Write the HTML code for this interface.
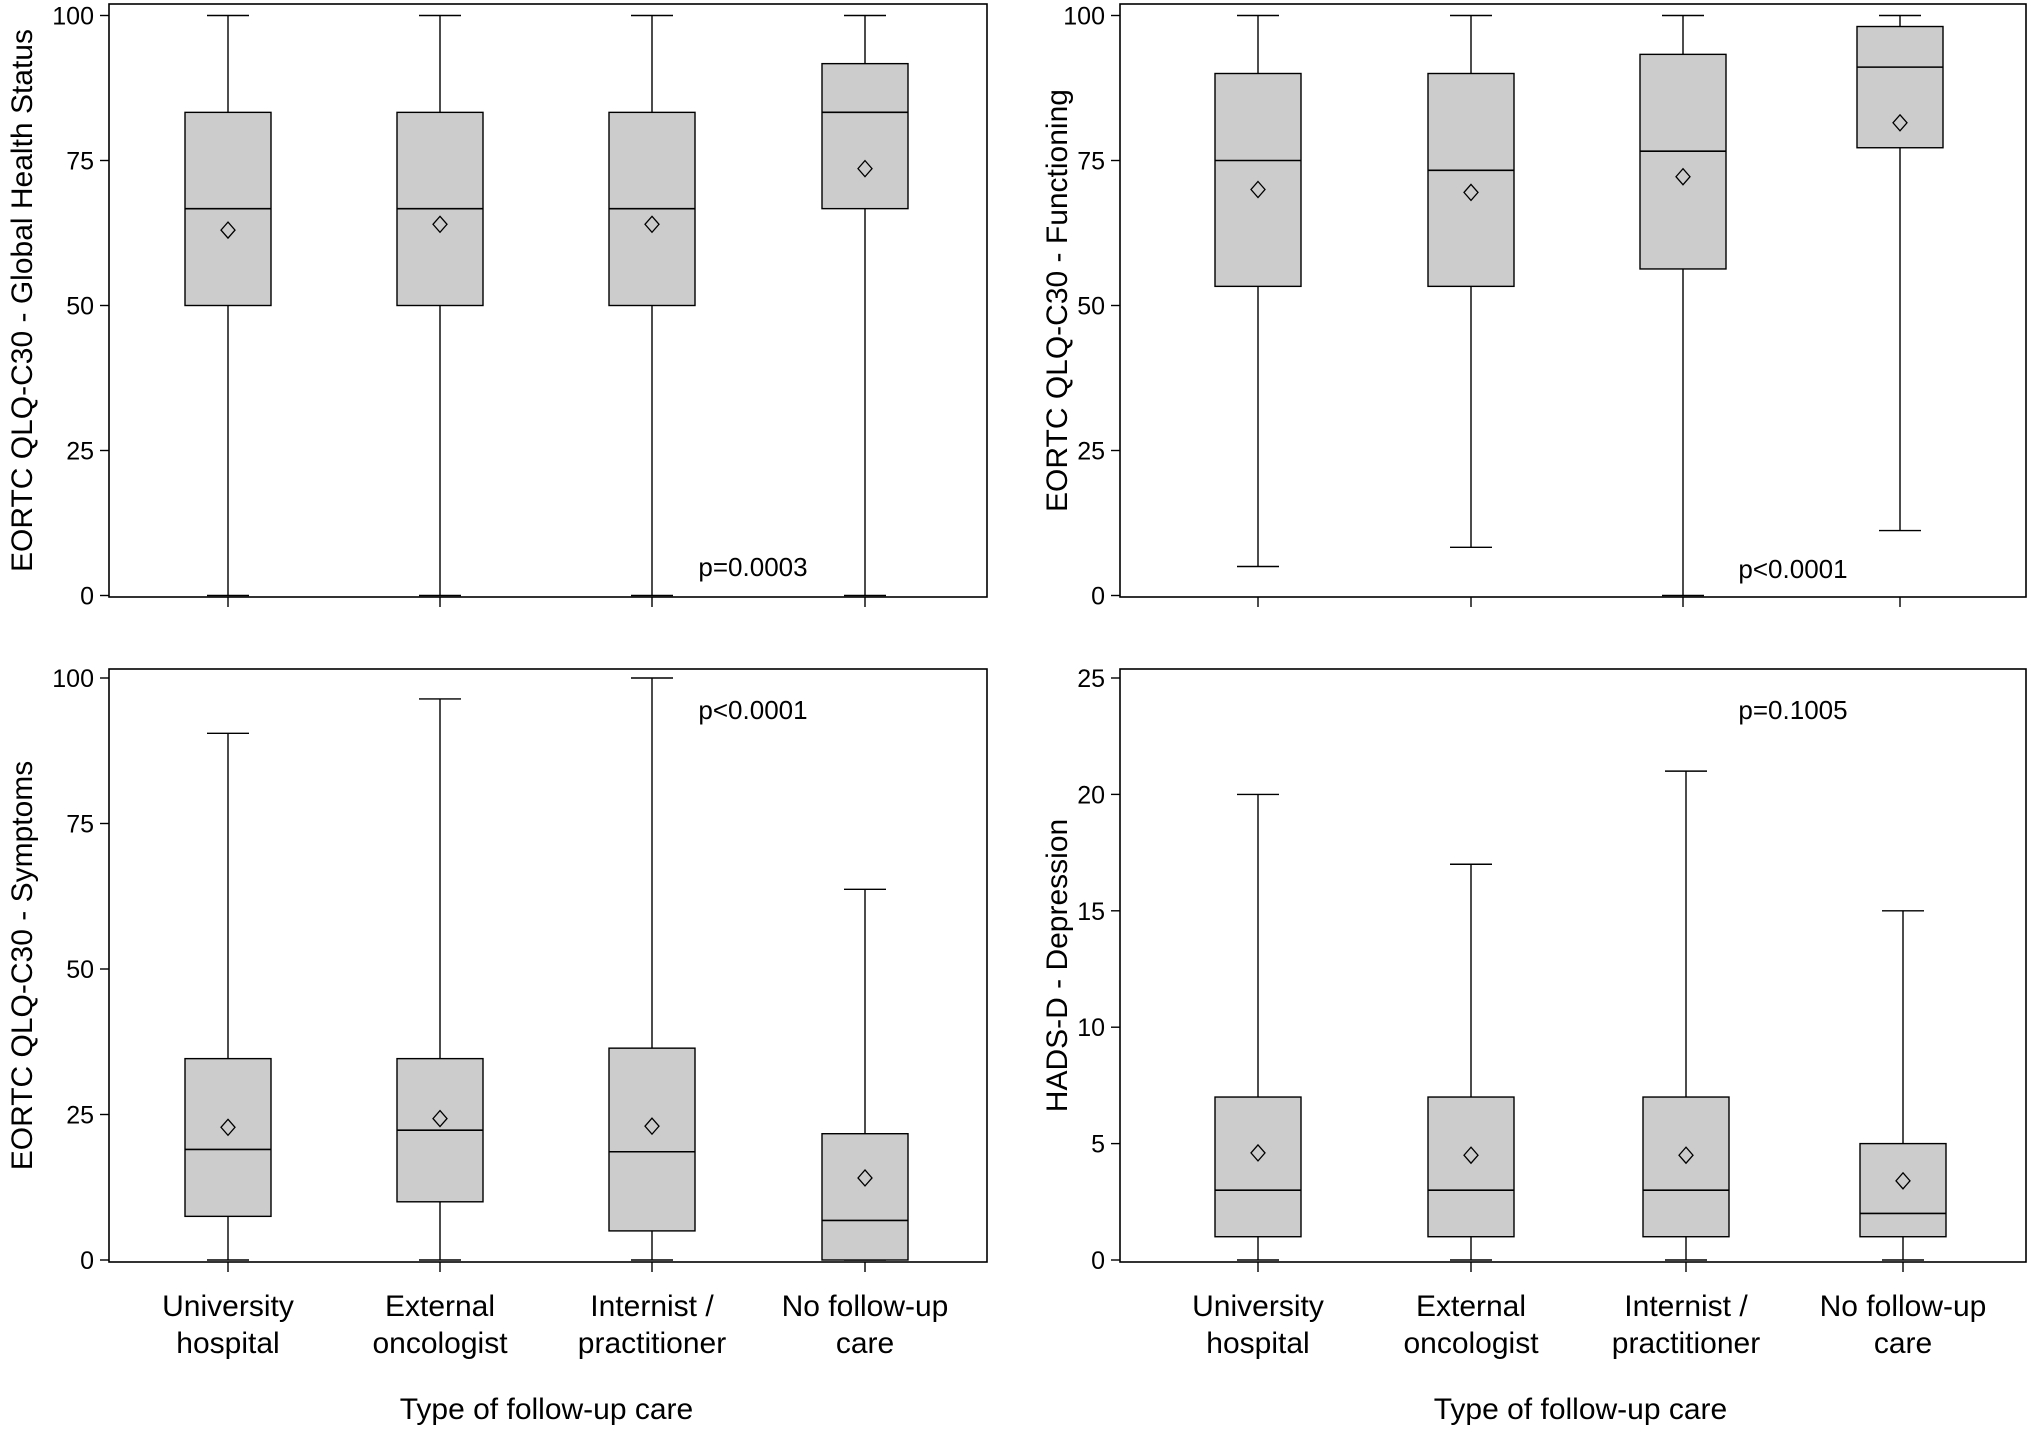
<!DOCTYPE html>
<html><head><meta charset="utf-8"><style>
html,body{margin:0;padding:0;background:#fff;}
svg{display:block;}
text{fill:#000;}
.nar{font-family:"Liberation Sans Narrow","Liberation Sans",sans-serif;}
.reg{font-family:"Liberation Sans",sans-serif;}
</style></head><body>
<svg id="chart" width="2030" height="1432" viewBox="0 0 2030 1432" xmlns="http://www.w3.org/2000/svg"></svg>
<script>
const categories = ["University hospital","External oncologist","Internist / practitioner","No follow-up care"];
const catLine1 = ["University","External","Internist /","No follow-up"];
const catLine2 = ["hospital","oncologist","practitioner","care"];
// [low whisker, Q1, median, Q3, high whisker]
const globalHealth = [[0,50,66.7,83.3,100],[0,50,66.7,83.3,100],[0,50,66.7,83.3,100],[0,66.7,83.3,91.7,100]];
const globalHealthMean = [63,64,64,73.6];
const functioning = [[5,53.3,75,90,100],[8.3,53.3,73.3,90,100],[0,56.3,76.6,93.3,100],[11.2,77.2,91.1,98.1,100]];
const functioningMean = [70,69.5,72.2,81.5];
const symptoms = [[0,7.5,19,34.6,90.5],[0,10,22.3,34.6,96.4],[0,5,18.6,36.4,100],[0,0,6.8,21.7,63.7]];
const symptomsMean = [22.8,24.3,23,14.1];
const depression = [[0,1,3,7,20],[0,1,3,7,17],[0,1,3,7,21],[0,1,2,5,15]];
const depressionMean = [4.6,4.5,4.5,3.4];
const ticks100 = [0,25,50,75,100];
const ticks25 = [0,5,10,15,20,25];

const svg = document.getElementById('chart');
const NS = 'http://www.w3.org/2000/svg';
function mk(tag, attrs, parent){
  const e = document.createElementNS(NS, tag);
  for (const k in attrs) e.setAttribute(k, attrs[k]);
  (parent||svg).appendChild(e);
  return e;
}

const panels = [
  {name:'global-health', left:109, right:987, top:4, bottom:597, y0:595.5, yTop:15.5, max:100, ticks:ticks100, centers:[228,440,652,865], data:globalHealth, mean:globalHealthMean, title:'EORTC QLQ-C30 - Global Health Status', titleX:22, p:'p=0.0003', px:753, py:576, xlabels:false},
  {name:'functioning', left:1120, right:2026, top:4, bottom:597, y0:595.5, yTop:15.5, max:100, ticks:ticks100, centers:[1258,1471,1683,1900], data:functioning, mean:functioningMean, title:'EORTC QLQ-C30 - Functioning', titleX:1057, p:'p<0.0001', px:1793, py:578, xlabels:false},
  {name:'symptoms', left:109, right:987, top:669, bottom:1262, y0:1260, yTop:678, max:100, ticks:ticks100, centers:[228,440,652,865], data:symptoms, mean:symptomsMean, title:'EORTC QLQ-C30 - Symptoms', titleX:22, p:'p<0.0001', px:753, py:719, xlabels:true},
  {name:'depression', left:1120, right:2026, top:669, bottom:1262, y0:1260, yTop:678, max:25, ticks:ticks25, centers:[1258,1471,1686,1903], data:depression, mean:depressionMean, title:'HADS-D - Depression', titleX:1057, p:'p=0.1005', px:1793, py:719, xlabels:true}
];

panels.forEach(P => {
  const g = mk('g', {});
  
  
  const y = v => P.y0 - (v / P.max) * (P.y0 - P.yTop);
  const fr = mk('rect', {x:P.left, y:P.top, width:P.right-P.left, height:P.bottom-P.top, fill:'none', stroke:'#000', 'stroke-width':1.6}, g);
  
  
  P.ticks.forEach(t => {
    mk('line', {x1:P.left-9, x2:P.left, y1:y(t), y2:y(t), stroke:'#000', 'stroke-width':1.4}, g);
    const tl = mk('text', {x:P.left-15, y:y(t)+9, 'text-anchor':'end', 'font-size':25, class:'nar'}, g);
    tl.textContent = t;
    
    
  });
  const yt = mk('text', {x:P.titleX+10, y:(P.top+P.bottom)/2, transform:`rotate(-90 ${P.titleX+10} ${(P.top+P.bottom)/2})`, 'text-anchor':'middle', 'font-size':30, class:'reg'}, g);
  yt.textContent = P.title;
  
  
  P.centers.forEach((cx, i) => {
    const d = P.data[i];
    mk('line', {x1:cx, x2:cx, y1:P.bottom, y2:P.bottom+10, stroke:'#000', 'stroke-width':1.4}, g);
    const bg = mk('g', {}, g);
    
    
    mk('line', {x1:cx, x2:cx, y1:y(d[0]), y2:y(d[1]), stroke:'#000', 'stroke-width':1.4}, bg);
    mk('line', {x1:cx, x2:cx, y1:y(d[3]), y2:y(d[4]), stroke:'#000', 'stroke-width':1.4}, bg);
    mk('line', {x1:cx-21, x2:cx+21, y1:y(d[0]), y2:y(d[0]), stroke:'#000', 'stroke-width':1.4}, bg);
    mk('line', {x1:cx-21, x2:cx+21, y1:y(d[4]), y2:y(d[4]), stroke:'#000', 'stroke-width':1.4}, bg);
    mk('rect', {x:cx-43, y:y(d[3]), width:86, height:y(d[1])-y(d[3]), fill:'#cccccc', stroke:'#000', 'stroke-width':1.4}, bg);
    mk('line', {x1:cx-43, x2:cx+43, y1:y(d[2]), y2:y(d[2]), stroke:'#000', 'stroke-width':1.6}, bg);
    const my = y(P.mean[i]);
    const dm = mk('path', {d:`M${cx} ${my-8} L${cx+7} ${my} L${cx} ${my+8} L${cx-7} ${my} Z`, fill:'none', stroke:'#000', 'stroke-width':1.3}, bg);
    
    
    if (P.xlabels) {
      const t1 = mk('text', {x:cx, y:1316, 'text-anchor':'middle', 'font-size':30, class:'nar'}, g);
      t1.textContent = catLine1[i];
      
      
      const t2 = mk('text', {x:cx, y:1353, 'text-anchor':'middle', 'font-size':30, class:'nar'}, g);
      t2.textContent = catLine2[i];
      
      
    }
  });
  const pt = mk('text', {x:P.px, y:P.py, 'text-anchor':'middle', 'font-size':26, class:'nar'}, g);
  pt.textContent = P.p;
  
  
  if (P.xlabels) {
    const xt = mk('text', {x:(P.centers[0]+P.centers[3])/2, y:1419, 'text-anchor':'middle', 'font-size':30, class:'nar'}, g);
    xt.textContent = 'Type of follow-up care';
    
    
  }
});
</script>
</body></html>
